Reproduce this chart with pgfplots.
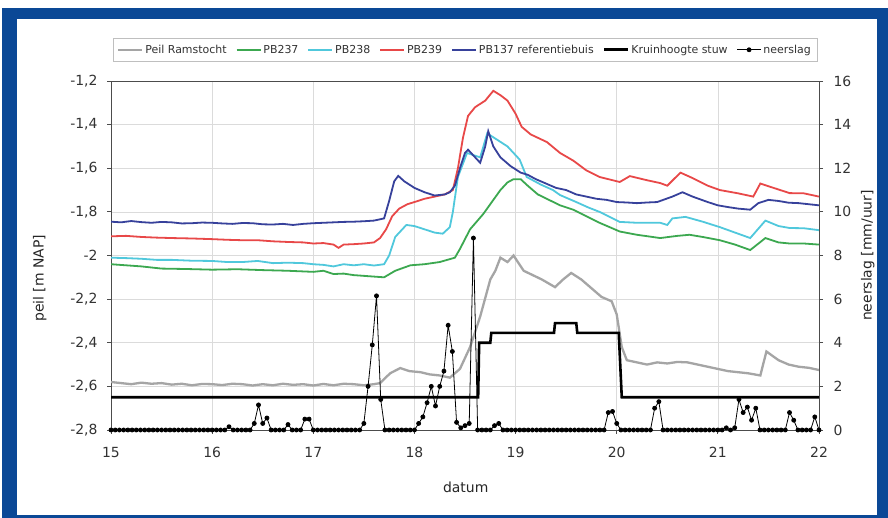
\documentclass[border=0pt]{standalone}
\usepackage{fontspec}
\setmainfont{DejaVu Sans}
\usepackage{pgfplots}
\pgfplotsset{compat=1.18}
\usepackage{pgfplotstable}
\definecolor{frameblue}{RGB}{10,72,150}
\definecolor{cgray}{RGB}{165,165,165}
\definecolor{cgreen}{RGB}{60,168,80}
\definecolor{ccyan}{RGB}{80,200,220}
\definecolor{cred}{RGB}{232,72,72}
\definecolor{cblue}{RGB}{55,65,155}

\pgfplotstableread[row sep=\\]{
h r\\
0 0\\ 1 0\\ 2 0\\ 3 0\\ 4 0\\ 5 0\\ 6 0\\ 7 0\\ 8 0\\ 9 0\\
10 0\\ 11 0\\ 12 0\\ 13 0\\ 14 0\\ 15 0\\ 16 0\\ 17 0\\ 18 0\\ 19 0\\
20 0\\ 21 0\\ 22 0\\ 23 0\\ 24 0\\ 25 0\\ 26 0\\ 27 0\\ 28 0.15\\ 29 0\\
30 0\\ 31 0\\ 32 0\\ 33 0\\ 34 0.3\\ 35 1.15\\ 36 0.3\\ 37 0.55\\ 38 0\\ 39 0\\
40 0\\ 41 0\\ 42 0.25\\ 43 0\\ 44 0\\ 45 0\\ 46 0.5\\ 47 0.5\\ 48 0\\ 49 0\\
50 0\\ 51 0\\ 52 0\\ 53 0\\ 54 0\\ 55 0\\ 56 0\\ 57 0\\ 58 0\\ 59 0\\
60 0.3\\ 61 2.0\\ 62 3.9\\ 63 6.15\\ 64 1.4\\ 65 0\\ 66 0\\ 67 0\\ 68 0\\ 69 0\\
70 0\\ 71 0\\ 72 0\\ 73 0.3\\ 74 0.6\\ 75 1.25\\ 76 2.0\\ 77 1.1\\ 78 2.0\\ 79 2.7\\
80 4.8\\ 81 3.6\\ 82 0.35\\ 83 0.1\\ 84 0.2\\ 85 0.3\\ 86 8.8\\ 87 0\\ 88 0\\ 89 0\\
90 0\\ 91 0.2\\ 92 0.3\\ 93 0\\ 94 0\\ 95 0\\ 96 0\\ 97 0\\ 98 0\\ 99 0\\
100 0\\ 101 0\\ 102 0\\ 103 0\\ 104 0\\ 105 0\\ 106 0\\ 107 0\\ 108 0\\ 109 0\\
110 0\\ 111 0\\ 112 0\\ 113 0\\ 114 0\\ 115 0\\ 116 0\\ 117 0\\ 118 0.8\\ 119 0.85\\
120 0.3\\ 121 0\\ 122 0\\ 123 0\\ 124 0\\ 125 0\\ 126 0\\ 127 0\\ 128 0\\ 129 1.0\\
130 1.3\\ 131 0\\ 132 0\\ 133 0\\ 134 0\\ 135 0\\ 136 0\\ 137 0\\ 138 0\\ 139 0\\
140 0\\ 141 0\\ 142 0\\ 143 0\\ 144 0\\ 145 0\\ 146 0.1\\ 147 0\\ 148 0.1\\ 149 1.4\\
150 0.8\\ 151 1.05\\ 152 0.45\\ 153 1.0\\ 154 0\\ 155 0\\ 156 0\\ 157 0\\ 158 0\\ 159 0\\
160 0\\ 161 0.8\\ 162 0.45\\ 163 0\\ 164 0\\ 165 0\\ 166 0\\ 167 0.6\\ 168 0\\
}\rain

\begin{document}
\begin{tikzpicture}
\useasboundingbox (0,0) rectangle (888bp,518bp);
\fill[frameblue] (2bp,0) rectangle (888bp,510bp);
\fill[white] (17bp,3bp) rectangle (877bp,499bp);
\begin{axis}[
  at={(111bp,88bp)}, anchor=south west,
  scale only axis, width=708bp, height=349bp,
  xmin=15, xmax=22, ymin=-2.8, ymax=-1.2,
  xtick={15,16,17,18,19,20,21,22},
  ytick={-2.8,-2.6,-2.4,-2.2,-2,-1.8,-1.6,-1.4,-1.2},
  xtick pos=bottom, ytick pos=left,
  grid=major, major grid style={draw=black!14, line width=0.6bp},
  axis line style={black!70, line width=0.8bp},
  tick style={black!70, line width=0.8bp},
  tick align=outside, major tick length=4bp,
  /pgf/number format/assume math mode=true,
  /pgf/number format/use comma,
  ticklabel style={font=\fontsize{14}{14}\selectfont, text=black!80},
  xticklabel style={yshift=-10bp},
  yticklabel style={xshift=-6bp},
  xlabel={datum}, ylabel={peil [m NAP]},
  label style={font=\fontsize{14}{16}\selectfont, text=black!85},
  xlabel style={at={(axis description cs:0.501,-0.163)}, anchor=center},
  ylabel style={at={(axis description cs:-0.1006,0.435)}, anchor=center},
]
% Peil Ramstocht
\addplot[cgray, line width=2.3bp] coordinates {
(15.0,-2.58)(15.1,-2.585)(15.2,-2.59)(15.3,-2.583)(15.4,-2.588)(15.5,-2.585)(15.6,-2.592)(15.7,-2.588)(15.8,-2.595)
(15.9,-2.589)(16.0,-2.59)(16.1,-2.594)(16.2,-2.588)(16.3,-2.59)(16.4,-2.596)(16.5,-2.59)(16.6,-2.595)
(16.7,-2.588)(16.8,-2.593)(16.9,-2.59)(17.0,-2.596)(17.1,-2.589)(17.2,-2.595)(17.3,-2.588)(17.4,-2.59)(17.5,-2.595)
(17.6,-2.59)(17.66,-2.585)(17.76,-2.54)(17.86,-2.516)(17.95,-2.53)(18.06,-2.535)(18.15,-2.545)(18.25,-2.55)(18.35,-2.56)(18.45,-2.52)
(18.55,-2.42)(18.65,-2.28)(18.75,-2.11)(18.8,-2.07)
(18.85,-2.01)(18.92,-2.03)(18.98,-2.00)(19.08,-2.07)(19.17,-2.09)(19.26,-2.11)(19.39,-2.145)(19.47,-2.11)(19.55,-2.08)
(19.65,-2.11)(19.75,-2.15)(19.85,-2.19)(19.95,-2.21)(20.0,-2.27)(20.05,-2.42)(20.1,-2.48)(20.2,-2.49)(20.3,-2.50)
(20.4,-2.49)(20.5,-2.495)(20.6,-2.488)(20.7,-2.49)(20.8,-2.50)(20.9,-2.51)(21.0,-2.52)(21.1,-2.53)(21.2,-2.535)(21.3,-2.54)(21.42,-2.55)(21.48,-2.44)
(21.6,-2.48)(21.7,-2.50)(21.8,-2.51)(21.9,-2.515)(22.0,-2.525)};
% PB237
\addplot[cgreen, line width=1.8bp] coordinates {
(15.0,-2.04)(15.15,-2.045)(15.3,-2.05)(15.4,-2.055)(15.5,-2.06)(15.75,-2.062)(16.0,-2.065)(16.25,-2.063)(16.5,-2.067)(16.75,-2.07)(17.0,-2.075)(17.1,-2.07)(17.2,-2.085)
(17.3,-2.083)(17.4,-2.09)(17.55,-2.095)(17.7,-2.10)(17.81,-2.07)(17.96,-2.045)(18.1,-2.04)(18.25,-2.03)(18.4,-2.01)(18.45,-1.97)
(18.55,-1.88)(18.68,-1.81)(18.85,-1.70)(18.92,-1.665)(18.98,-1.65)(19.05,-1.65)(19.12,-1.68)(19.22,-1.72)(19.33,-1.745)(19.44,-1.77)
(19.57,-1.79)(19.7,-1.82)(19.83,-1.85)(20.03,-1.89)(20.2,-1.905)(20.43,-1.92)(20.6,-1.91)(20.72,-1.905)(20.85,-1.915)(21.02,-1.93)(21.17,-1.95)(21.32,-1.975)
(21.47,-1.92)(21.6,-1.94)(21.71,-1.945)(21.85,-1.945)(22.0,-1.95)};
% PB238
\addplot[ccyan, line width=1.8bp] coordinates {
(15.0,-2.01)(15.15,-2.012)(15.3,-2.015)(15.45,-2.02)(15.6,-2.02)(15.8,-2.024)(16.0,-2.025)(16.15,-2.03)(16.3,-2.03)(16.45,-2.025)(16.6,-2.035)(16.75,-2.033)(16.9,-2.035)
(17.0,-2.04)(17.1,-2.043)(17.2,-2.05)(17.3,-2.04)(17.4,-2.045)(17.5,-2.04)(17.6,-2.046)(17.7,-2.04)(17.75,-2.00)(17.81,-1.915)
(17.92,-1.86)(18.0,-1.865)(18.1,-1.88)(18.2,-1.895)(18.28,-1.90)(18.35,-1.87)(18.38,-1.80)
(18.43,-1.64)(18.52,-1.53)(18.65,-1.55)(18.72,-1.44)(18.82,-1.47)(18.92,-1.50)(19.04,-1.56)(19.11,-1.64)(19.25,-1.675)
(19.37,-1.70)(19.44,-1.723)(19.6,-1.755)(19.72,-1.78)(19.83,-1.80)(20.03,-1.846)(20.2,-1.85)(20.43,-1.85)(20.5,-1.86)(20.55,-1.83)
(20.68,-1.823)(20.85,-1.845)(21.02,-1.87)(21.17,-1.895)(21.32,-1.92)(21.47,-1.84)(21.6,-1.865)(21.71,-1.874)(21.85,-1.875)(22.0,-1.884)};
% PB239
\addplot[cred, line width=1.8bp] coordinates {
(15.0,-1.912)(15.15,-1.91)(15.3,-1.915)(15.45,-1.918)(15.6,-1.92)(15.8,-1.922)(16.0,-1.925)(16.15,-1.928)(16.3,-1.93)(16.45,-1.93)(16.6,-1.935)(16.75,-1.938)(16.9,-1.94)
(17.0,-1.945)(17.1,-1.943)(17.2,-1.95)(17.25,-1.965)(17.3,-1.95)(17.4,-1.948)(17.5,-1.945)(17.6,-1.94)(17.66,-1.92)(17.72,-1.88)
(17.78,-1.82)(17.85,-1.785)(17.93,-1.765)(18.0,-1.755)(18.1,-1.74)(18.2,-1.73)(18.3,-1.72)
(18.38,-1.70)(18.43,-1.60)(18.48,-1.46)(18.53,-1.36)(18.6,-1.32)(18.7,-1.29)(18.78,-1.245)
(18.85,-1.265)(18.92,-1.29)(19.0,-1.35)(19.06,-1.41)(19.15,-1.445)(19.31,-1.48)(19.44,-1.53)
(19.57,-1.565)(19.7,-1.61)(19.83,-1.64)(20.03,-1.663)(20.13,-1.636)(20.3,-1.655)(20.43,-1.668)
(20.5,-1.68)(20.63,-1.62)(20.75,-1.645)(20.9,-1.68)(21.02,-1.70)(21.2,-1.715)(21.35,-1.73)(21.42,-1.67)
(21.55,-1.69)(21.71,-1.714)(21.85,-1.715)(22.0,-1.73)};
% PB137
\addplot[cblue, line width=1.8bp] coordinates {
(15.0,-1.845)(15.1,-1.848)(15.2,-1.842)(15.3,-1.847)(15.4,-1.85)(15.5,-1.846)(15.6,-1.848)(15.7,-1.853)(15.8,-1.852)(15.9,-1.849)(16.0,-1.85)(16.1,-1.853)(16.2,-1.855)
(16.3,-1.851)(16.4,-1.852)(16.5,-1.857)(16.6,-1.858)(16.7,-1.855)(16.8,-1.86)(16.9,-1.855)(17.0,-1.852)(17.1,-1.85)(17.2,-1.848)(17.3,-1.846)(17.4,-1.845)
(17.5,-1.843)(17.6,-1.84)(17.7,-1.83)(17.75,-1.75)(17.8,-1.66)(17.84,-1.635)(17.9,-1.66)(18.0,-1.69)
(18.1,-1.71)(18.2,-1.725)(18.3,-1.72)(18.35,-1.71)(18.4,-1.68)(18.45,-1.60)(18.5,-1.53)
(18.53,-1.515)(18.58,-1.54)(18.65,-1.575)(18.7,-1.50)(18.73,-1.43)(18.78,-1.50)(18.85,-1.55)
(18.95,-1.59)(19.05,-1.62)(19.12,-1.63)(19.2,-1.65)(19.3,-1.67)(19.4,-1.69)(19.5,-1.70)(19.6,-1.72)(19.7,-1.73)(19.8,-1.74)(19.9,-1.745)(20.0,-1.755)
(20.1,-1.757)(20.2,-1.76)(20.3,-1.757)(20.4,-1.755)(20.55,-1.73)(20.65,-1.71)(20.75,-1.73)(20.9,-1.755)(21.0,-1.77)(21.1,-1.778)(21.2,-1.785)
(21.32,-1.79)(21.4,-1.76)(21.5,-1.745)(21.6,-1.75)(21.7,-1.758)(21.8,-1.76)(21.9,-1.765)(22.0,-1.77)};
% Kruinhoogte stuw
\addplot[black, line width=2.6bp] coordinates {
(15,-2.65)(18.63,-2.65)(18.64,-2.40)(18.75,-2.40)(18.76,-2.355)(19.38,-2.355)(19.39,-2.31)
(19.6,-2.31)(19.61,-2.355)(20.02,-2.355)(20.05,-2.65)(22,-2.65)};
\end{axis}
\begin{axis}[
  at={(111bp,88bp)}, anchor=south west,
  scale only axis, width=708bp, height=349bp,
  xmin=0, xmax=168, ymin=0, ymax=16,
  axis x line=none, axis y line*=right,
  ytick={0,2,4,6,8,10,12,14,16},
  axis line style={black!70, line width=0.8bp},
  tick style={black!70, line width=0.8bp},
  tick align=outside, major tick length=4bp,
  /pgf/number format/assume math mode=true,
  ticklabel style={font=\fontsize{14}{14}\selectfont, text=black!80},
  yticklabel style={xshift=7bp},
  ylabel={neerslag [mm/uur]},
  label style={font=\fontsize{14}{16}\selectfont, text=black!85},
  ylabel style={at={(axis description cs:1.069,0.5)}, anchor=center},
  legend columns=-1,
  legend style={at={(0.5,1)}, anchor=south, yshift=19bp, draw=black!25, line width=0.6bp,
    font=\fontsize{11}{13}\selectfont, text=black!80, inner xsep=4bp, inner ysep=5bp,
    /tikz/every even column/.append style={column sep=7bp}},
  legend image code/.code={\draw[mark repeat=2,mark phase=2,#1] plot coordinates {(0bp,0bp) (12bp,0bp) (24bp,0bp)};},
]
\addlegendimage{cgray, line width=2.2bp}
\addlegendentry{Peil Ramstocht}
\addlegendimage{cgreen, line width=1.8bp}
\addlegendentry{PB237}
\addlegendimage{ccyan, line width=1.8bp}
\addlegendentry{PB238}
\addlegendimage{cred, line width=1.8bp}
\addlegendentry{PB239}
\addlegendimage{cblue, line width=1.8bp}
\addlegendentry{PB137 referentiebuis}
\addlegendimage{black, line width=2.6bp}
\addlegendentry{Kruinhoogte stuw}
\addplot[black, line width=0.8bp, mark=*, mark size=2bp] table[x=h, y=r] {\rain};
\addlegendentry{neerslag}
\end{axis}
\end{tikzpicture}
\end{document}
